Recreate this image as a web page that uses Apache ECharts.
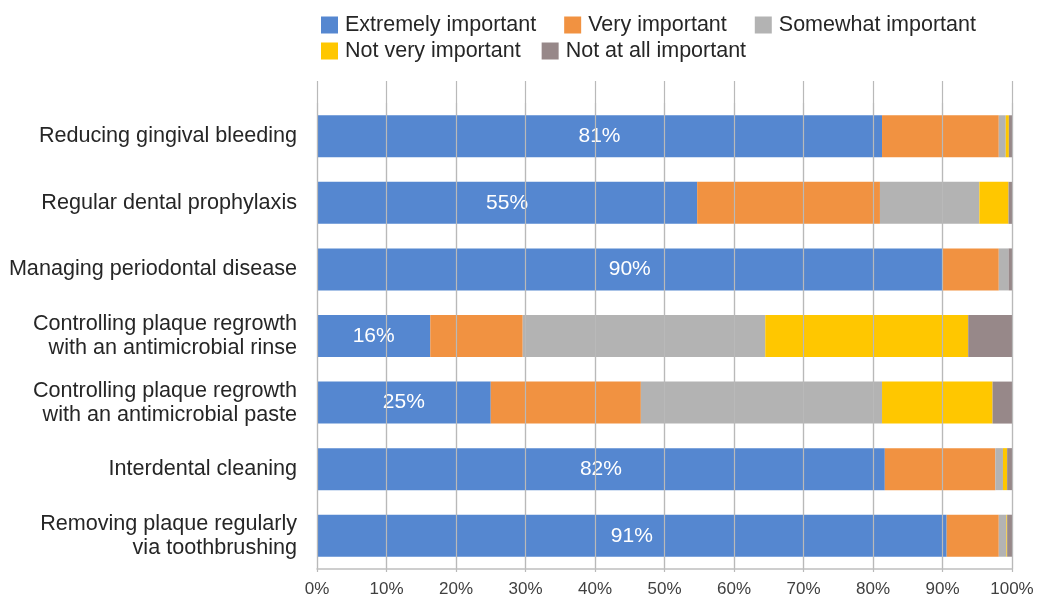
<!DOCTYPE html>
<html>
<head>
<meta charset="utf-8">
<script src="https://cdn.jsdelivr.net/npm/echarts@6/dist/echarts.min.js"></script>
<style>
html,body{margin:0;padding:0;background:#fff;}
#chart{width:1039px;height:598px;}
</style>
</head>
<body>
<div id="chart"></div>
<script>
const categories = [
  'Reducing gingival bleeding',
  'Regular dental prophylaxis',
  'Managing periodontal disease',
  'Controlling plaque regrowth\nwith an antimicrobial rinse',
  'Controlling plaque regrowth\nwith an antimicrobial paste',
  'Interdental cleaning',
  'Removing plaque regularly\nvia toothbrushing'
];
const seriesNames = ['Extremely important','Very important','Somewhat important','Not very important','Not at all important'];
const extremely = [81.3, 54.7, 90.0, 16.3, 25.0, 81.7, 90.6];
const very      = [16.8, 26.3,  8.1, 13.3, 21.6, 15.9,  7.5];
const somewhat  = [ 1.0, 14.3,  1.4, 34.9, 34.7,  1.1,  1.1];
const notVery   = [ 0.45, 4.2,  0.0, 29.2, 15.9,  0.6,  0.1];
const notAtAll  = [ 0.45, 0.5,  0.5,  6.3,  2.8,  0.7,  0.7];
const xTicks = ['0%','10%','20%','30%','40%','50%','60%','70%','80%','90%','100%'];

const colors = ['#5587d0','#f19241','#b3b3b3','#ffc700','#978889'];
const FONT = 'Liberation Sans';
const seriesData = [extremely, very, somewhat, notVery, notAtAll];

const chart = echarts.init(document.getElementById('chart'));
const series = seriesNames.map((name, i) => ({
  name: name,
  type: 'bar',
  stack: 'total',
  barWidth: 42,
  xAxisIndex: 0,
  yAxisIndex: 0,
  z: 2,
  itemStyle: {color: colors[i]},
  label: i === 0 ? {
    show: true,
    position: 'inside',
    color: '#ffffff',
    fontFamily: FONT,
    fontSize: 21,
    formatter: p => Math.round(p.value) + '%'
  } : {show: false},
  emphasis: {disabled: true},
  data: seriesData[i]
}));

const legendText = {fontFamily: FONT, fontSize: 21.5, color: '#262626', padding: [0, 0, 0, 2]};

chart.setOption({
  animation: false,
  textStyle: {fontFamily: FONT},
  legend: [
    {
      data: seriesNames.slice(0, 3),
      left: 316, top: 9,
      itemWidth: 17, itemHeight: 17, itemGap: 28,
      icon: 'rect',
      textStyle: legendText,
      selectedMode: false
    },
    {
      data: seriesNames.slice(3),
      left: 316, top: 35,
      itemWidth: 17, itemHeight: 17, itemGap: 21,
      icon: 'rect',
      textStyle: legendText,
      selectedMode: false
    }
  ],
  grid: [
    {left: 317, right: 27, top: 103, bottom: 26, containLabel: false},
    {left: 317, right: 27, top: 81, bottom: 26, containLabel: false}
  ],
  xAxis: [
    {
      gridIndex: 0, type: 'value', min: 0, max: 100, interval: 10,
      z: 5,
      axisLine: {show: true, lineStyle: {color: '#bfbfbf', width: 1.5}},
      axisTick: {show: false},
      splitLine: {show: true, lineStyle: {color: '#b9b9b9', width: 1.2}},
      axisLabel: {
        color: '#404040', fontSize: 17, fontFamily: FONT, margin: 12,
        formatter: (v) => xTicks[Math.round(v / 10)]
      }
    },
    {
      gridIndex: 1, type: 'value', min: 0, max: 100, interval: 10,
      z: 1,
      axisLine: {show: false},
      axisTick: {show: false},
      axisLabel: {show: false},
      splitLine: {show: true, lineStyle: {color: '#b9b9b9', width: 1.2}}
    }
  ],
  yAxis: [
    {
      gridIndex: 0, type: 'category', inverse: true, data: categories,
      axisLine: {show: false}, axisTick: {show: false},
      axisLabel: {color: '#262626', fontSize: 21.6, fontFamily: FONT, margin: 20, lineHeight: 24, align: 'right'}
    },
    {
      gridIndex: 1, type: 'category', data: [''],
      show: false
    }
  ],
  series: series
});
</script>
</body>
</html>
